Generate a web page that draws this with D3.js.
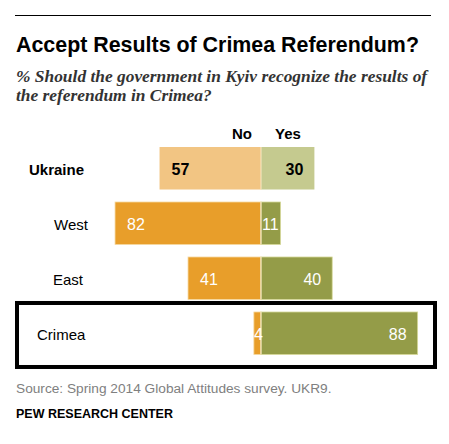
<!DOCTYPE html>
<html>
<head>
<meta charset="utf-8">
<title>Accept Results of Crimea Referendum?</title>
<script src="https://d3js.org/d3.v7.min.js"></script>
<style>
body { margin: 0; background: #fff; }
svg { display: block; }
.sans { font-family: "Liberation Sans", Arial, sans-serif; }
</style>
</head>
<body>
<script>
// data
var regions = ["Ukraine", "West", "East", "Crimea"];
var noValues = [57, 82, 41, 4];
var yesValues = [30, 11, 40, 88];
var headers = ["No", "Yes"];

var width = 449, height = 444;

// layout: label indents per row, light shades for the total row
var labelX = { Ukraine: 29, West: 54, East: 53, Crimea: 37 };
var noColor = { Ukraine: "#f2c583", other: "#e89e2a" };
var yesColor = { Ukraine: "#c5ca8f", other: "#949c48" };

var rows = regions.map(function(r, i) {
  return { region: r, no: noValues[i], yes: yesValues[i], total: i === 0 };
});

var svg = d3.select("body").append("svg")
  .attr("width", width)
  .attr("height", height);

var x = d3.scaleLinear()
  .domain([-90, 90])
  .range([100.8, 421.2]);

var y = d3.scaleBand()
  .domain(regions)
  .range([147, 354.5])
  .paddingInner(0.227)
  .paddingOuter(0);

// top rule
svg.append("line")
  .attr("x1", 15).attr("x2", 431)
  .attr("y1", 15.5).attr("y2", 15.5)
  .attr("stroke", "#000").attr("stroke-width", 1);

svg.append("text")
  .attr("class", "sans")
  .attr("x", 16).attr("y", 52)
  .attr("font-size", 21.4).attr("font-weight", "bold")
  .attr("fill", "#000")
  .text("Accept Results of Crimea Referendum?");

var sub = svg.append("text")
  .attr("font-family", "'Liberation Serif', 'Times New Roman', serif")
  .attr("font-style", "italic")
  .attr("font-weight", "bold")
  .attr("font-size", 17.4)
  .attr("fill", "#333");
sub.append("tspan").attr("x", 16).attr("y", 82)
  .text("% Should the government in Kyiv recognize the results of");
sub.append("tspan").attr("x", 16).attr("y", 101)
  .text("the referendum in Crimea?");

// column headers
svg.append("text").attr("class", "sans")
  .attr("x", x(0) - 9).attr("y", 139)
  .attr("text-anchor", "end")
  .attr("font-size", 15).attr("font-weight", "bold")
  .text(headers[0]);
svg.append("text").attr("class", "sans")
  .attr("x", x(0) + 14).attr("y", 139)
  .attr("font-size", 15).attr("font-weight", "bold")
  .text(headers[1]);

// highlight box round Crimea
svg.append("rect")
  .attr("x", 17).attr("y", y("Crimea") - 9)
  .attr("width", 418).attr("height", 64)
  .attr("fill", "none")
  .attr("stroke", "#000").attr("stroke-width", 4);

var row = svg.selectAll(".row")
  .data(rows)
  .enter().append("g")
  .attr("class", "row");

row.append("rect")
  .attr("x", function(d) { return x(-d.no); })
  .attr("y", function(d) { return y(d.region); })
  .attr("width", function(d) { return x(0) - x(-d.no); })
  .attr("height", y.bandwidth())
  .attr("fill", function(d) { return d.total ? noColor.Ukraine : noColor.other; })
  .attr("stroke", function(d) { return d.total ? "none" : "#f6d9a0"; })
  .attr("stroke-width", 0.8);

row.append("rect")
  .attr("x", x(0))
  .attr("y", function(d) { return y(d.region); })
  .attr("width", function(d) { return x(d.yes) - x(0); })
  .attr("height", y.bandwidth())
  .attr("fill", function(d) { return d.total ? yesColor.Ukraine : yesColor.other; })
  .attr("stroke", function(d) { return d.total ? "none" : "#d6d99a"; })
  .attr("stroke-width", 0.8);

// thin light divider at zero, inside each bar only
row.append("line")
  .attr("x1", x(0)).attr("x2", x(0))
  .attr("y1", function(d) { return y(d.region); })
  .attr("y2", function(d) { return y(d.region) + y.bandwidth(); })
  .attr("stroke", "#fbe7c4").attr("stroke-width", 1);

row.append("text")
  .attr("class", "sans")
  .attr("x", function(d) { return labelX[d.region]; })
  .attr("y", function(d) { return y(d.region) + y.bandwidth() / 2 + 7; })
  .attr("font-size", 15)
  .attr("font-weight", function(d) { return d.total ? "bold" : "normal"; })
  .attr("fill", "#000")
  .text(function(d) { return d.region; });

row.append("text")
  .attr("class", "sans")
  .attr("x", function(d) {
    var w = x(0) - x(-d.no);
    return x(-d.no) + (w < 20 ? 0 : 12);
  })
  .attr("y", function(d) { return y(d.region) + y.bandwidth() / 2 + 7; })
  .attr("font-size", 16)
  .attr("font-weight", function(d) { return d.total ? "bold" : "normal"; })
  .attr("fill", function(d) { return d.total ? "#000" : "#fff"; })
  .text(function(d) { return d.no; });

row.append("text")
  .attr("class", "sans")
  .attr("x", function(d) {
    var w = x(d.yes) - x(0);
    return x(d.yes) - (w < 25 ? 2 : 11);
  })
  .attr("y", function(d) { return y(d.region) + y.bandwidth() / 2 + 7; })
  .attr("text-anchor", "end")
  .attr("font-size", 16)
  .attr("font-weight", function(d) { return d.total ? "bold" : "normal"; })
  .attr("fill", function(d) { return d.total ? "#000" : "#fff"; })
  .text(function(d) { return d.yes; });

svg.append("text").attr("class", "sans")
  .attr("x", 16).attr("y", 393)
  .attr("font-size", 13.7)
  .attr("fill", "#808080")
  .text("Source: Spring 2014 Global Attitudes survey. UKR9.");

svg.append("text").attr("class", "sans")
  .attr("x", 16).attr("y", 418)
  .attr("font-size", 12.5).attr("font-weight", "bold")
  .attr("fill", "#000")
  .text("PEW RESEARCH CENTER");
</script>
</body>
</html>
